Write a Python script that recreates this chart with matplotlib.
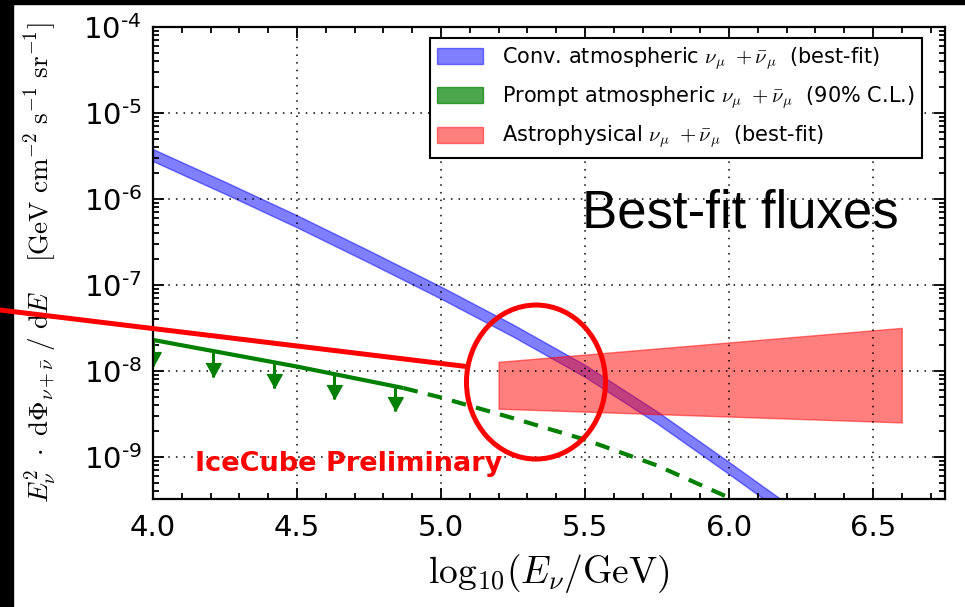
import numpy as np
import matplotlib
matplotlib.use("Agg")
import matplotlib.pyplot as plt
from matplotlib.patches import Patch, Ellipse, Rectangle
from matplotlib.lines import Line2D
from matplotlib.ticker import LogLocator, NullFormatter, MultipleLocator, FuncFormatter

# conventional atmospheric band (log10 of flux)
conv_x = [4.0, 4.25, 4.5, 4.75, 5.0, 5.25, 5.5, 5.75, 6.0, 6.25]
conv_hi = [-5.42, -5.80, -6.19, -6.60, -7.02, -7.46, -7.93, -8.47, -9.06, -9.66]
conv_lo = [-5.56, -5.94, -6.33, -6.74, -7.16, -7.60, -8.07, -8.61, -9.20, -9.80]

# prompt atmospheric 90% upper limit
prompt_x = [4.0, 4.5, 4.87]
prompt_y = [-7.64, -7.95, -8.20]
prompt_ext_x = [4.87, 5.0, 5.25, 5.5, 5.75, 6.05]
prompt_ext_y = [-8.20, -8.31, -8.55, -8.80, -9.10, -9.55]
arrow_x = [4.0, 4.21, 4.42, 4.63, 4.84]
arrow_top = [-7.64, -7.77, -7.90, -8.03, -8.17]
arrow_tip = [-7.94, -8.07, -8.20, -8.33, -8.47]

# astrophysical band
astro_x = [5.2, 6.6]
astro_hi = [-7.895, -7.50]
astro_lo = [-8.44, -8.60]

y_decades = [1e-9, 1e-8, 1e-7, 1e-6, 1e-5, 1e-4]

labels = [r"Conv. atmospheric $\nu_\mu\ +\bar{\nu}_\mu$  (best-fit)",
          r"Prompt atmospheric $\nu_\mu\ +\bar{\nu}_\mu$  (90% C.L.)",
          r"Astrophysical $\nu_\mu\ +\bar{\nu}_\mu$  (best-fit)"]

fig = plt.figure(figsize=(9.65, 6.07), dpi=100)
ax = fig.add_axes([0.1585, 0.178, 0.8207, 0.7775])

ax.fill_between(conv_x, 10**np.array(conv_lo), 10**np.array(conv_hi),
                color="b", alpha=0.5, lw=1)
ax.fill_between(astro_x, 10**np.array(astro_lo), 10**np.array(astro_hi),
                color="r", alpha=0.5, lw=1)
ax.plot(prompt_x, 10**np.array(prompt_y), color="g", lw=3, solid_capstyle="butt")
ax.plot(prompt_ext_x, 10**np.array(prompt_ext_y), color="g", lw=3,
        dashes=(3.5, 2.5))
ax.vlines(arrow_x, 10**np.array(arrow_tip), 10**np.array(arrow_top), color="g", lw=2.2)
head = [(-0.55, 1), (0.55, 1), (0, 0)]
ax.plot(arrow_x, 10**np.array(arrow_tip), ls="none", marker=head, ms=20,
        color="g", mec="g")

ax.set_yscale("log")
ax.set_xlim(4.0, 6.75)
ax.set_ylim(10**-9.49, 1e-4)
ax.xaxis.set_major_locator(MultipleLocator(0.5))
ax.xaxis.set_minor_locator(MultipleLocator(0.1))
ax.set_yticks(y_decades)
ax.yaxis.set_minor_locator(LogLocator(base=10, subs=np.arange(2, 10), numticks=20))
ax.yaxis.set_minor_formatter(NullFormatter())
ax.yaxis.set_major_formatter(FuncFormatter(
    lambda v, p: "$\\mathdefault{10^{\u2010%d}}$" % round(-np.log10(v))))
ax.tick_params(which="both", direction="in", top=True, right=True, width=1.3,
               labelsize=21)
ax.tick_params(which="major", length=8)
ax.tick_params(which="minor", length=4)
ax.tick_params(axis="x", pad=11)
ax.tick_params(axis="y", pad=8)
for s in ax.spines.values():
    s.set_linewidth(1.6)
ax.grid(True, which="major", color="k", ls=(0, (1, 4)), lw=1.1)

ax.set_xlabel(r"$\mathrm{log}_{10}(E_\nu/\mathrm{GeV})$", fontsize=27,
              math_fontfamily="cm")
ax.set_ylabel(r"$E_\nu^2\ \cdot\ \mathrm{d}\Phi_{\nu+\bar{\nu}}\ /\ \mathrm{d}E\quad\ "
              r"[\mathrm{GeV\ cm^{-2}\ s^{-1}\ sr^{-1}}]$", fontsize=19.5,
              math_fontfamily="cm")
ax.xaxis.set_label_coords(0.5, -0.112)
ax.yaxis.set_label_coords(-0.117, 0.5)

handles = [Patch(facecolor="b", edgecolor="b", alpha=0.5),
           Patch(facecolor="g", edgecolor="g", alpha=0.7),
           Patch(facecolor="r", edgecolor="r", alpha=0.5)]
leg = ax.legend(handles, labels, loc="upper right", bbox_to_anchor=(0.971, 0.977),
                borderaxespad=0, fancybox=False, edgecolor="k", framealpha=1,
                fontsize=15, handlelength=2.2, handleheight=0.8, labelspacing=0.6,
                handletextpad=0.9, borderpad=0.35)
leg.get_frame().set_linewidth(1.5)
for t in leg.get_texts():
    t.set_math_fontfamily("cm")

ax.text(0.053, 0.059, "IceCube Preliminary", transform=ax.transAxes, color="r",
        fontsize=19.5, fontweight="bold", va="baseline")
fig.text(582 / 965, 1 - 228 / 607, "Best-fit fluxes", family="Liberation Sans",
         fontsize=38, va="baseline")

# red highlight circle and pointer line
inv = fig.transFigure.inverted()
cx, cy = inv.transform(ax.transData.transform((5.33, 10**-8.13)))
fig.add_artist(Ellipse((cx, cy), 139 / 965, 154 / 607, transform=fig.transFigure,
                       fill=False, edgecolor="r", lw=3.6, zorder=10))
ex, ey = inv.transform(ax.transData.transform((5.09, 10**-7.95)))
fig.add_artist(Line2D([0, ex], [1 - 310 / 607, ey], transform=fig.transFigure,
                      color="r", lw=3.6, zorder=10))

# black border strips
fig.add_artist(Rectangle((0, 0), 13 / 965, 1, transform=fig.transFigure,
                         color="k", zorder=5))
fig.add_artist(Rectangle((0, 1 - 4 / 607), 1, 4 / 607, transform=fig.transFigure,
                         color="k", zorder=5))

fig.savefig("out.png", dpi=100)
